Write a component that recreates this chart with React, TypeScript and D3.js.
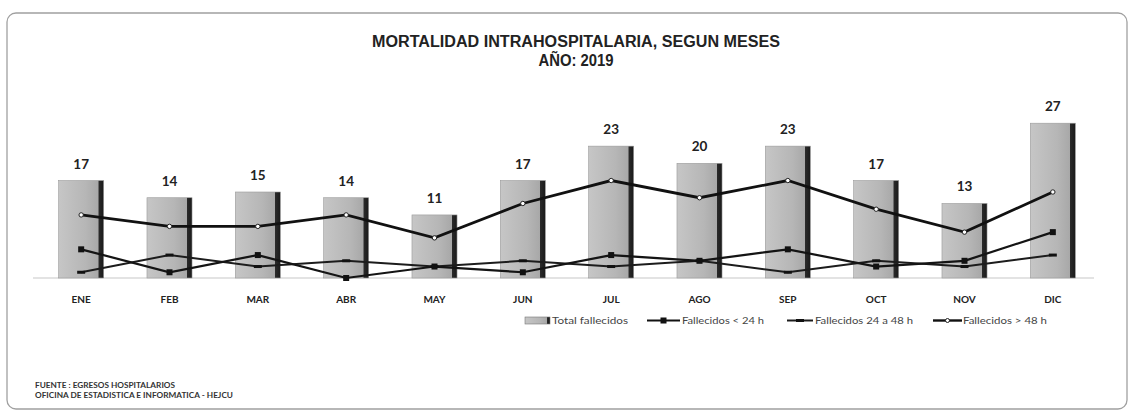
import * as d3 from 'd3';

const months = ['ENE', 'FEB', 'MAR', 'ABR', 'MAY', 'JUN', 'JUL', 'AGO', 'SEP', 'OCT', 'NOV', 'DIC'];
const totalFallecidos = [17, 14, 15, 14, 11, 17, 23, 20, 23, 17, 13, 27];
const menos24h = [5, 1, 4, 0, 2, 1, 4, 3, 5, 2, 3, 8];
const de24a48h = [1, 4, 2, 3, 2, 3, 2, 3, 1, 3, 2, 4];
const mas48h = [11, 9, 9, 11, 7, 13, 17, 14, 17, 12, 8, 15];

const W = 1131;
const H = 418;
const labelFont = 'Lato, "Open Sans", sans-serif';

export default function App() {
  const x = d3.scaleBand<string>().domain(months).range([37, 1097]).paddingInner(0.49).paddingOuter(0.245);
  const y = d3.scaleLinear().domain([0, 30]).range([278, 106]);
  const cx = (i: number) => (x(months[i]) as number) + x.bandwidth() / 2;

  const line = d3.line<number>().x((_, i) => cx(i)).y((d) => y(d));

  const bw = x.bandwidth();

  return (
    <svg width={W} height={H} style={{ position: 'absolute', left: 0, top: 0, background: '#fff' }}>
      <defs>
        <linearGradient id="barFill" x1="0" x2="1" y1="0" y2="0">
          <stop offset="0" stopColor="#c6c6c6" />
          <stop offset="0.6" stopColor="#b6b6b6" />
          <stop offset="0.88" stopColor="#a8a8a8" />
          <stop offset="0.89" stopColor="#2a2a2a" />
          <stop offset="1" stopColor="#1a1a1a" />
        </linearGradient>
      </defs>

      {/* frame */}
      <rect x={7} y={13} width={1120} height={396} rx={9} fill="none" stroke="#a0a0a0" strokeWidth={1.3} />

      {/* title */}
      <text x={576} y={47} textAnchor="middle" fontFamily='"Liberation Sans", Arial, sans-serif' fontWeight="bold"
        fontSize={16} fill="#222" textLength={408} lengthAdjust="spacingAndGlyphs">
        MORTALIDAD INTRAHOSPITALARIA, SEGUN MESES
      </text>
      <text x={576} y={66} textAnchor="middle" fontFamily='"Liberation Sans", Arial, sans-serif' fontWeight="bold"
        fontSize={16} fill="#222" textLength={75} lengthAdjust="spacingAndGlyphs">
        AÑO: 2019
      </text>

      {/* baseline */}
      <line x1={33} x2={1094} y1={y(0)} y2={y(0)} stroke="#c8c8c8" strokeWidth={1.2} />

      {/* bars */}
      {totalFallecidos.map((v, i) => (
        <g key={months[i]}>
          <rect x={x(months[i])} y={y(v)} width={bw} height={y(0) - y(v)} fill="url(#barFill)" stroke="#9a9a9a" strokeWidth={0.6} />
          <text x={cx(i)} y={y(v) - 12} textAnchor="middle" fontFamily={labelFont} fontWeight="bold" fontSize={13.5} fill="#222">
            {v}
          </text>
          <text x={cx(i)} y={303} textAnchor="middle" fontFamily={labelFont} fontWeight="bold" fontSize={10} fill="#222">
            {months[i]}
          </text>
        </g>
      ))}

      {/* lines */}
      <path d={line(de24a48h) as string} fill="none" stroke="#1c1c1c" strokeWidth={2} />
      <path d={line(menos24h) as string} fill="none" stroke="#141414" strokeWidth={2.2} />
      <path d={line(mas48h) as string} fill="none" stroke="#111" strokeWidth={2.8} />

      {de24a48h.map((v, i) => (
        <line key={'b' + i} x1={cx(i) - 4} x2={cx(i) + 4} y1={y(v)} y2={y(v)} stroke="#111" strokeWidth={3} />
      ))}
      {menos24h.map((v, i) => (
        <rect key={'a' + i} x={cx(i) - 3} y={y(v) - 3} width={6} height={6} fill="#111" />
      ))}
      {mas48h.map((v, i) => (
        <circle key={'c' + i} cx={cx(i)} cy={y(v)} r={2.2} fill="#fff" stroke="#222" strokeWidth={1} />
      ))}

      {/* legend */}
      <g fontFamily={labelFont} fontSize={9.5} fill="#444">
        <rect x={525} y={317} width={25} height={7} fill="url(#barFill)" stroke="#777" strokeWidth={0.6} />
        <text x={552} y={324} textLength={76} lengthAdjust="spacingAndGlyphs">Total fallecidos</text>

        <line x1={647} x2={680} y1={320.5} y2={320.5} stroke="#111" strokeWidth={2.2} />
        <rect x={660.5} y={317.5} width={6} height={6} fill="#111" />
        <text x={682} y={324} textLength={82} lengthAdjust="spacingAndGlyphs">Fallecidos &lt; 24 h</text>

        <line x1={787} x2={813} y1={320.5} y2={320.5} stroke="#1c1c1c" strokeWidth={2} />
        <line x1={796} x2={804} y1={320.5} y2={320.5} stroke="#111" strokeWidth={3} />
        <text x={815} y={324} textLength={98} lengthAdjust="spacingAndGlyphs">Fallecidos 24 a 48 h</text>

        <line x1={933} x2={962} y1={320.5} y2={320.5} stroke="#111" strokeWidth={2.4} />
        <circle cx={947.5} cy={320.5} r={2} fill="#fff" stroke="#222" strokeWidth={1} />
        <text x={963} y={324} textLength={84} lengthAdjust="spacingAndGlyphs">Fallecidos &gt; 48 h</text>
      </g>

      {/* footer */}
      <g fontFamily={labelFont} fontWeight="bold" fontSize={8} fill="#333">
        <text x={35} y={388} textLength={140} lengthAdjust="spacingAndGlyphs">FUENTE : EGRESOS HOSPITALARIOS</text>
        <text x={35} y={398} textLength={198} lengthAdjust="spacingAndGlyphs">OFICINA DE ESTADISTICA E INFORMATICA - HEJCU</text>
      </g>
    </svg>
  );
}
